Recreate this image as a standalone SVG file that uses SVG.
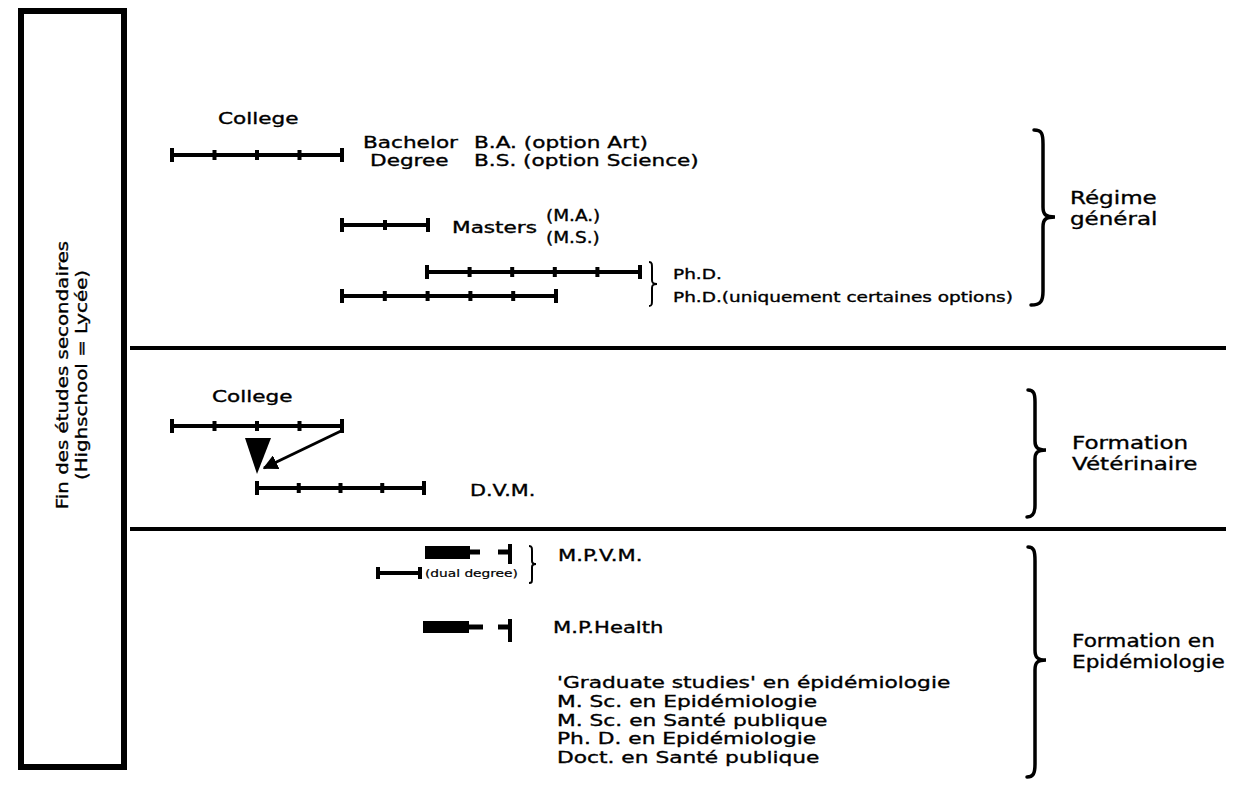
<svg xmlns="http://www.w3.org/2000/svg" width="1249" height="785" viewBox="0 0 1249 785">
<defs>
<style>
.t{font-family:"DejaVu Sans","Liberation Sans",sans-serif;font-size:16px;fill:#000;stroke:#000;stroke-width:0.35}
.s{font-size:14px}
.xs{font-size:11px;stroke-width:0.2}
.m{font-size:15px}
.big{font-size:18px}
.bar{stroke:#000;stroke-width:4;fill:none}
.tk{stroke:#000;stroke-width:4}
.br{stroke:#000;stroke-width:3.5;fill:none;stroke-linecap:round}
.sbr{stroke:#000;stroke-width:2;fill:none}
.sep{stroke:#000;stroke-width:4}
</style>
<marker id="ah" viewBox="0 0 10 10" refX="9" refY="5" markerWidth="5" markerHeight="5" orient="auto" markerUnits="strokeWidth">
<path d="M0,0 L10,5 L0,10 Z" fill="#000"/>
</marker>
</defs>
<rect width="1249" height="785" fill="#fff"/>

<g id="highschool">
<rect x="21" y="11" width="103" height="756" fill="none" stroke="#000" stroke-width="6"/>
<text class="t" text-anchor="middle" transform="translate(68 375) rotate(-90) scale(1.24 1)">Fin des études secondaires</text>
<text class="t" text-anchor="middle" transform="translate(87 375) rotate(-90) scale(1.24 1)">(Highschool = Lycée)</text>
</g>

<g id="separators">
<line class="sep" x1="130" y1="348" x2="1226" y2="348"/>
<line class="sep" x1="130" y1="529" x2="1226" y2="529"/>
</g>

<g id="college-general">
<text class="t" transform="translate(218 124) scale(1.35 1)">College</text>
<line class="bar" x1="172" y1="155" x2="342" y2="155"/>
<path class="tk" d="M172,148V162M342,148V162M214.5,150V160M257,150V160M299.5,150V160"/>
</g>

<g id="bachelor">
<text class="t" transform="translate(363 147.5) scale(1.35 1)">Bachelor</text>
<text class="t" transform="translate(370 166.3) scale(1.35 1)">Degree</text>
<text class="t" transform="translate(474 147.5) scale(1.35 1)">B.A. (option Art)</text>
<text class="t" transform="translate(474 166.3) scale(1.35 1)">B.S. (option Science)</text>
</g>

<g id="masters">
<line class="bar" x1="342" y1="225" x2="428" y2="225"/>
<path class="tk" d="M342,218V232M428,218V232M385,220V230"/>
<text class="t" transform="translate(452 233) scale(1.35 1)">Masters</text>
<text class="t m" transform="translate(546 221) scale(1.23 1)">(M.A.)</text>
<text class="t m" transform="translate(546 243) scale(1.23 1)">(M.S.)</text>
</g>

<g id="phd">
<line class="bar" x1="427" y1="272" x2="640" y2="272"/>
<path class="tk" d="M427,265V279M640,265V279M469.6,267V277M512.2,267V277M554.8,267V277M597.4,267V277"/>
<line class="bar" x1="342" y1="296" x2="556" y2="296"/>
<path class="tk" d="M342,289V303M556,289V303M384.8,291V301M427.6,291V301M470.4,291V301M513.2,291V301"/>
<path class="sbr" d="M649,262 C652,262 652,264 652,268 L652,280 C652,283 653,284 657,284 C653,284 652,285 652,288 L652,300 C652,304 652,306 649,306"/>
<text class="t s" transform="translate(673 279) scale(1.32 1)">Ph.D.</text>
<text class="t s" transform="translate(673 302) scale(1.32 1)">Ph.D.(uniquement certaines options)</text>
</g>

<g id="regime-general">
<path class="br" d="M1034,130 C1042,130 1043,134 1043,144 L1043,207 C1043,214 1045,217 1055,217 C1045,217 1043,220 1043,227 L1043,291 C1043,301 1041,305 1031,305"/>
<text class="t big" transform="translate(1070 204) scale(1.28 1)">Régime</text>
<text class="t big" transform="translate(1070 225) scale(1.28 1)">général</text>
</g>

<g id="college-vet">
<text class="t" transform="translate(212 402) scale(1.35 1)">College</text>
<line class="bar" x1="172" y1="426" x2="342" y2="426"/>
<path class="tk" d="M172,419V433M342,419V433M214.5,421V431M257,421V431M299.5,421V431"/>
</g>

<g id="connectors">
<polygon points="245,438 271,438 257,474" fill="#000"/>
<line x1="341" y1="431" x2="264" y2="468" stroke="#000" stroke-width="3" marker-end="url(#ah)"/>
</g>

<g id="dvm">
<line class="bar" x1="257" y1="488" x2="424" y2="488"/>
<path class="tk" d="M257,481V495M424,481V495M298.75,483V493M340.5,483V493M382.25,483V493"/>
<text class="t" transform="translate(470 496) scale(1.3 1)">D.V.M.</text>
</g>

<g id="formation-vet">
<path class="br" d="M1028,390 C1034,390 1035,394 1035,402 L1035,441 C1035,447 1037,450 1046,450 C1037,450 1035,453 1035,459 L1035,505 C1035,513 1033,517 1027,517"/>
<text class="t big" transform="translate(1072 449) scale(1.28 1)">Formation</text>
<text class="t big" transform="translate(1072 470) scale(1.28 1)">Vétérinaire</text>
</g>

<g id="mpvm">
<rect x="425" y="546" width="45" height="13" fill="#000"/>
<line x1="470" y1="552" x2="480" y2="552" stroke="#000" stroke-width="5"/>
<line x1="498" y1="552" x2="510" y2="552" stroke="#000" stroke-width="5"/>
<line x1="510" y1="544" x2="510" y2="564" stroke="#000" stroke-width="4"/>
<line class="bar" x1="378" y1="573" x2="420" y2="573"/>
<path class="tk" d="M378,567V579M420,567V579"/>
<text class="t xs" transform="translate(425 577) scale(1.25 1)">(dual degree)</text>
<path class="sbr" d="M529,546 C532,546 532,548 532,551 L532,561 C532,563 533,564 536,564 C533,564 532,565 532,567 L532,579 C532,582 532,583 529,583"/>
<text class="t" transform="translate(558 561) scale(1.32 1)">M.P.V.M.</text>
</g>

<g id="mph">
<rect x="423" y="621" width="46" height="12" fill="#000"/>
<line x1="469" y1="627" x2="483" y2="627" stroke="#000" stroke-width="5"/>
<line x1="498" y1="627" x2="510" y2="627" stroke="#000" stroke-width="5"/>
<line x1="510" y1="619" x2="510" y2="642" stroke="#000" stroke-width="4"/>
<text class="t" transform="translate(553 633) scale(1.32 1)">M.P.Health</text>
</g>

<g id="epi-list">
<text class="t" transform="translate(557 688) scale(1.36 1)">'Graduate studies' en épidémiologie</text>
<text class="t" transform="translate(557 706.8) scale(1.36 1)">M. Sc. en Epidémiologie</text>
<text class="t" transform="translate(557 725.6) scale(1.36 1)">M. Sc. en Santé publique</text>
<text class="t" transform="translate(557 744.4) scale(1.36 1)">Ph. D. en Epidémiologie</text>
<text class="t" transform="translate(557 763.2) scale(1.36 1)">Doct. en Santé publique</text>
</g>

<g id="formation-epi">
<path class="br" d="M1028,547 C1034,547 1035,551 1035,561 L1035,650 C1035,657 1037,660 1046,660 C1037,660 1035,663 1035,670 L1035,764 C1035,774 1033,777 1027,777"/>
<text class="t big" transform="translate(1072 647) scale(1.2 1)">Formation en</text>
<text class="t big" transform="translate(1072 668) scale(1.2 1)">Epidémiologie</text>
</g>
</svg>
